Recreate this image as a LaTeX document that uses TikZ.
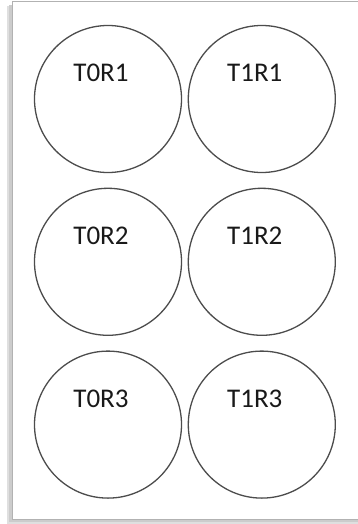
\documentclass[tikz,border=0pt]{standalone}
\usepackage{fontspec}
\setmainfont{Carlito}
\usetikzlibrary{positioning}

\begin{document}
\begin{tikzpicture}[x=1pt, y=-1pt,
    well/.style={circle, draw=black!70, line width=1.3pt, minimum size=147pt, inner sep=0pt},
    tag/.style={font=\fontsize{27}{30}\selectfont, text=black!90},
    sheet/.style={draw=gray!60, line width=1pt, fill=white},
    shade/.style={fill=gray!25}
]
\useasboundingbox (0,0) rectangle (357,524);

% Sheet and its shadow
\fill[shade] (7,6) rectangle (370,524);
\fill[gray!40] (9,5) rectangle (370,522);
\draw[sheet] (12,2) rectangle (372,519);

% Wells, row 1
\node[well] (r01) at (108,99) {};
\node[well, right=5.5pt of r01] (r11) {};

% Wells, row 2
\node[well, below=14.5pt of r01] (r02) {};
\node[well, right=5.5pt of r02] (r12) {};

% Wells, row 3
\node[well, below=14.5pt of r02] (r03) {};
\node[well, right=5.5pt of r03] (r13) {};

% Labels
\node[tag] (l01) at ([xshift=-7pt, yshift=26pt]r01.center) {T0R1};
\node[tag] (l11) at ([xshift=-7pt, yshift=26pt]r11.center) {T1R1};
\node[tag] (l02) at ([xshift=-7pt, yshift=26pt]r02.center) {T0R2};
\node[tag] (l12) at ([xshift=-7pt, yshift=26pt]r12.center) {T1R2};
\node[tag] (l03) at ([xshift=-7pt, yshift=26pt]r03.center) {T0R3};
\node[tag] (l13) at ([xshift=-7pt, yshift=26pt]r13.center) {T1R3};

\end{tikzpicture}
\end{document}
